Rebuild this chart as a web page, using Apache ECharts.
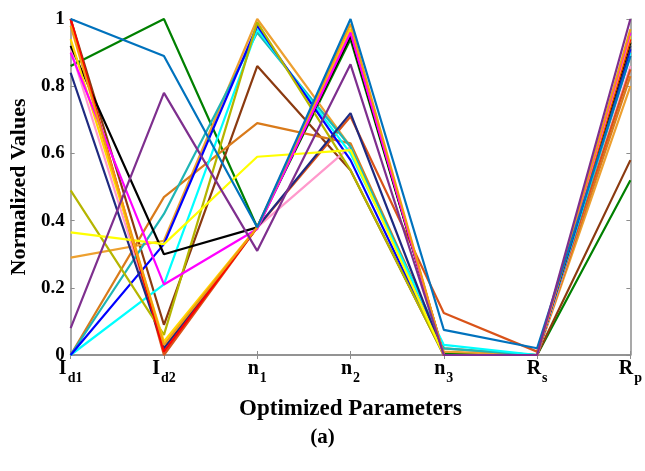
<!DOCTYPE html>
<html>
<head>
<meta charset="utf-8">
<script src="https://cdn.jsdelivr.net/npm/echarts@6/dist/echarts.min.js"></script>
<style>html,body{margin:0;padding:0;background:#fff}#c{width:645px;height:471px}</style>
</head>
<body>
<div id="c"></div>
<script>
const categories = ['I|d1', 'I|d2', 'n|1', 'n|2', 'n|3', 'R|s', 'R|p'];
const yTicks = [0, 0.2, 0.4, 0.6, 0.8, 1];

const sGreen   = [0.86, 1.0, 0.38, 0.94, 0.005, 0.0, 0.52];
const sBrown   = [1.0, 0.09, 0.86, 0.55, 0.0, 0.0, 0.58];
const sAmber   = [0.29, 0.34, 1.0, 0.62, 0.01, 0.0, 0.80];
const sOrange  = [0.0, 0.47, 0.69, 0.63, 0.02, 0.0, 0.83];
const sPink    = [0.91, 0.02, 0.38, 0.62, 0.0, 0.0, 0.86];
const sOrRed   = [1.0, 0.0, 0.38, 0.71, 0.125, 0.01, 0.85];
const sTeal    = [0.0, 0.42, 0.96, 0.62, 0.02, 0.0, 0.89];
const sCyan    = [0.0, 0.21, 0.97, 0.60, 0.03, 0.0, 0.90];
const sPBlue   = [0.0, 0.33, 0.98, 0.58, 0.0, 0.0, 0.91];
const sNavy    = [0.84, 0.02, 0.38, 0.72, 0.0, 0.0, 0.92];
const sOlive   = [0.49, 0.06, 0.99, 0.55, 0.0, 0.0, 0.93];
const sBlack   = [0.92, 0.30, 0.38, 0.95, 0.0, 0.0, 0.93];
const sYellow  = [0.365, 0.33, 0.59, 0.61, 0.0, 0.0, 0.94];
const sRed     = [1.0, 0.01, 0.38, 0.96, 0.0, 0.0, 0.94];
const sGold    = [0.94, 0.04, 0.38, 0.97, 0.0, 0.0, 0.95];
const sMagenta = [0.90, 0.21, 0.375, 0.96, 0.0, 0.0, 0.96];
const sOrange2 = [0.98, 0.03, 0.38, 0.985, 0.0, 0.0, 0.97];
const sBlue    = [1.0, 0.89, 0.38, 1.0, 0.075, 0.02, 0.89];
const sPurple  = [0.08, 0.78, 0.31, 0.865, 0.0, 0.0, 1.0];

const seriesList = [
  ['Green', sGreen, '#008000'],
  ['Brown', sBrown, '#8B3A10'],
  ['Amber', sAmber, '#EDA030'],
  ['Orange', sOrange, '#D97A1A'],
  ['Pink', sPink, '#FF99CC'],
  ['OrangeRed', sOrRed, '#D95319'],
  ['Teal', sTeal, '#1FB5B5'],
  ['Cyan', sCyan, '#00FFFF'],
  ['PureBlue', sPBlue, '#0000FF'],
  ['Navy', sNavy, '#1F2A80'],
  ['Olive', sOlive, '#B5B500'],
  ['Black', sBlack, '#000000'],
  ['Yellow', sYellow, '#FFFF00'],
  ['Red', sRed, '#FF0000'],
  ['Gold', sGold, '#FFD700'],
  ['Magenta', sMagenta, '#FF00FF'],
  ['Orange2', sOrange2, '#F39C12'],
  ['Blue', sBlue, '#0072BD'],
  ['Purple', sPurple, '#7E2F8E']
];

const FONT = '"Liberation Serif", "Times New Roman", serif';
const axisGray = '#8c8c8c';

const chart = echarts.init(document.getElementById('c'), null, {renderer: 'canvas'});
chart.setOption({
  animation: false,
  backgroundColor: '#fff',
  grid: {left: 70, right: 11, top: 19, bottom: 116},
  xAxis: [{
    type: 'category', data: categories, boundaryGap: false,
    axisLine: {lineStyle: {color: axisGray, width: 1.5}},
    axisTick: {inside: true, length: 4, lineStyle: {color: axisGray}},
    axisLabel: {
      margin: 10, color: '#000',
      formatter: v => { const p = v.split('|'); return '{a|' + p[0] + '}{b|' + p[1] + '}'; },
      rich: {
        a: {fontFamily: FONT, fontWeight: 'bold', fontSize: 20, color: '#000', verticalAlign: 'bottom', lineHeight: 20, padding: [0, 0, 6, 0]},
        b: {fontFamily: FONT, fontWeight: 'bold', fontSize: 14, color: '#000', verticalAlign: 'bottom', lineHeight: 20, padding: [0, 0, 0, 1]}
      }
    },
    name: 'Optimized Parameters', nameLocation: 'middle', nameGap: 43,
    nameTextStyle: {fontFamily: FONT, fontWeight: 'bold', fontSize: 23, color: '#000'}
  }, {
    type: 'category', data: categories, boundaryGap: false, position: 'top',
    axisLine: {lineStyle: {color: axisGray, width: 1.5}},
    axisTick: {inside: true, length: 4, lineStyle: {color: axisGray}},
    axisLabel: {show: false}
  }],
  yAxis: [{
    type: 'value', min: 0, max: 1, interval: 0.2,
    axisLine: {show: true, lineStyle: {color: axisGray, width: 1.5}},
    axisTick: {show: true, inside: true, length: 4, lineStyle: {color: axisGray}},
    splitLine: {show: false},
    axisLabel: {
      margin: 6, fontFamily: FONT, fontWeight: 'bold', fontSize: 19, color: '#000',
      formatter: v => { const t = yTicks.find(x => Math.abs(x - v) < 1e-9); return t === undefined ? '' : String(t); }
    },
    name: 'Normalized Values', nameLocation: 'middle', nameGap: 29,
    nameTextStyle: {fontFamily: FONT, fontWeight: 'bold', fontSize: 22, color: '#000'}
  }, {
    type: 'value', min: 0, max: 1, interval: 0.2, position: 'right',
    axisLine: {show: true, lineStyle: {color: axisGray, width: 1.5}},
    axisTick: {show: true, inside: true, length: 4, lineStyle: {color: axisGray}},
    splitLine: {show: false},
    axisLabel: {show: false}
  }],
  graphic: [{
    type: 'text', left: 'center', top: 427,
    style: {text: '(a)', font: 'bold 21px ' + FONT, fill: '#000'}
  }],
  series: seriesList.map(([n, d, c]) => ({
    name: n, type: 'line', data: d, xAxisIndex: 0, yAxisIndex: 0,
    showSymbol: false, symbol: 'none',
    lineStyle: {color: c, width: 2.2},
    itemStyle: {color: c}
  }))
});
</script>
</body>
</html>
